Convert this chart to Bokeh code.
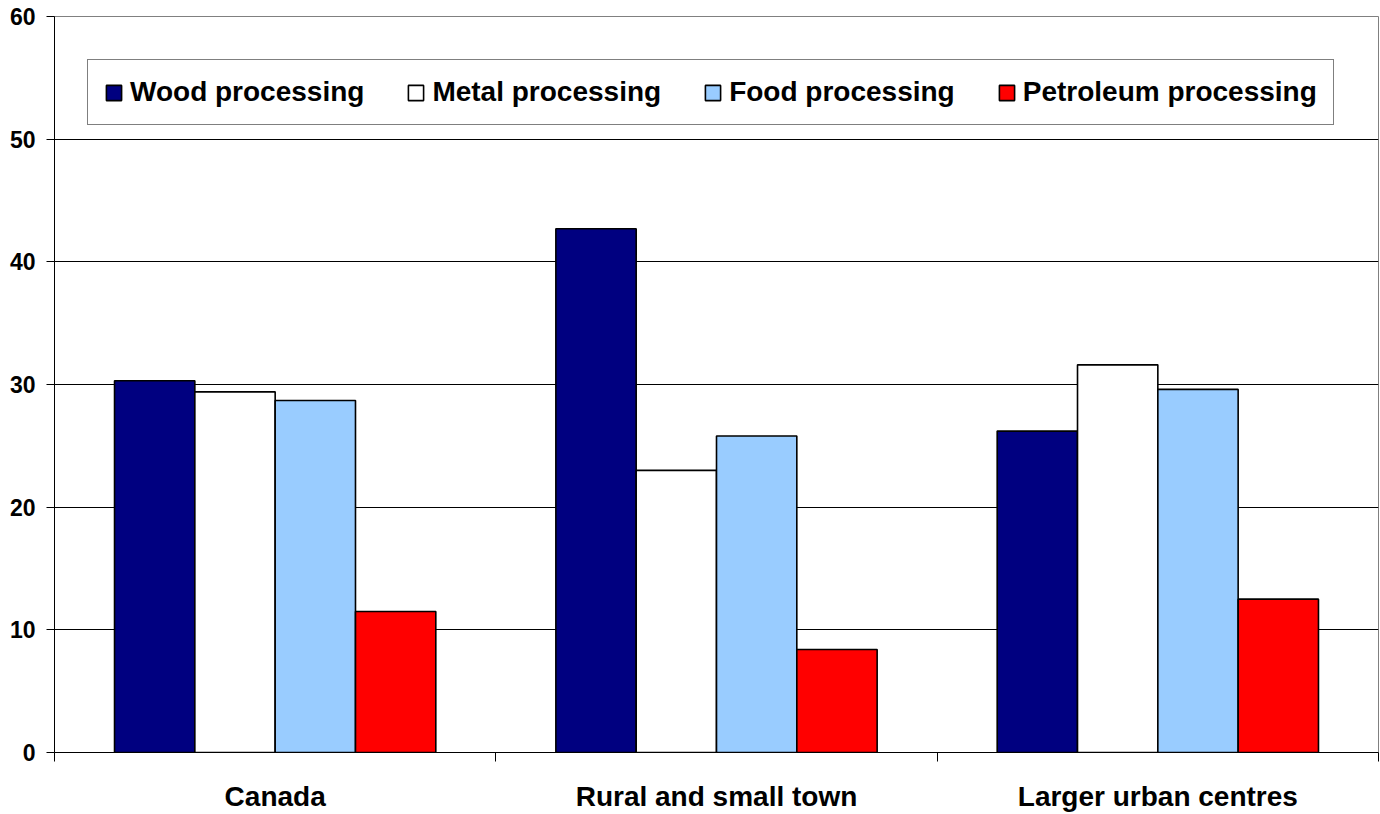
from bokeh.plotting import figure
from bokeh.models import ColumnDataSource, FixedTicker, Legend, LegendItem, Range1d
from bokeh.transform import dodge
from bokeh.embed import file_html
from bokeh.resources import INLINE

categories = ["Canada", "Rural and small town", "Larger urban centres"]
series = ["Wood processing", "Metal processing", "Food processing", "Petroleum processing"]
wood = [30.3, 42.7, 26.2]
metal = [29.4, 23.0, 31.6]
food = [28.7, 25.8, 29.6]
petroleum = [11.5, 8.4, 12.5]
y_ticks = [0, 10, 20, 30, 40, 50, 60]
colors = ["#000080", "#FFFFFF", "#99CCFF", "#FF0000"]

FONT = "Liberation Sans"

n = len(categories)
x_center = [i + 0.5 for i in range(n)]
boundaries = [float(i) for i in range(n + 1)]
source = ColumnDataSource(dict(x=x_center, wood=wood, metal=metal, food=food, petroleum=petroleum))

p = figure(width=1380, height=814, output_backend="svg", toolbar_location=None,
           x_range=Range1d(0, n), y_range=Range1d(0, 60),
           min_border_left=54, min_border_right=2, min_border_top=16, min_border_bottom=60,
           background_fill_color="white", border_fill_color="white")

bar_w = 0.182
keys = ["wood", "metal", "food", "petroleum"]
offsets = [-1.5, -0.5, 0.5, 1.5]
items = []
for key, name, col, off in zip(keys, series, colors, offsets):
    r = p.vbar(x=dodge("x", off * bar_w, range=p.x_range), top=key, bottom=0, width=bar_w,
               source=source, fill_color=col, line_color="black", line_width=1.6)
    items.append(LegendItem(label=name, renderers=[r]))

legend = Legend(items=items, orientation="horizontal", location=(33, 627),
                border_line_color="black", border_line_width=1,
                background_fill_color="white", background_fill_alpha=1,
                label_text_font=FONT, label_text_font_style="bold", label_text_font_size="28px",
                label_text_color="black",
                glyph_width=19, glyph_height=19, label_standoff=7, spacing=42,
                padding=16, margin=0)
p.add_layout(legend)

p.outline_line_color = "#808080"
p.outline_line_width = 1
p.xgrid.visible = False
p.ygrid.ticker = FixedTicker(ticks=[t for t in y_ticks if 0 < t < 60])
p.ygrid.grid_line_color = "black"
p.ygrid.grid_line_width = 1

p.yaxis.ticker = FixedTicker(ticks=y_ticks)
p.yaxis.axis_line_color = "black"
p.yaxis.major_tick_line_color = "black"
p.yaxis.major_tick_out = 8
p.yaxis.major_tick_in = 0
p.yaxis.minor_tick_line_color = None
p.yaxis.major_label_text_font = FONT
p.yaxis.major_label_text_font_style = "bold"
p.yaxis.major_label_text_font_size = "23px"
p.yaxis.major_label_text_color = "black"
p.yaxis.major_label_standoff = 11

p.xaxis.ticker = FixedTicker(ticks=x_center, minor_ticks=boundaries)
p.xaxis.major_label_overrides = {x: c for x, c in zip(x_center, categories)}
p.xaxis.axis_line_color = "black"
p.xaxis.major_tick_line_color = None
p.xaxis.major_tick_out = 0
p.xaxis.major_tick_in = 0
p.xaxis.minor_tick_line_color = "black"
p.xaxis.minor_tick_out = 9
p.xaxis.minor_tick_in = 0
p.xaxis.major_label_text_font = FONT
p.xaxis.major_label_text_font_style = "bold"
p.xaxis.major_label_text_font_size = "28px"
p.xaxis.major_label_text_color = "black"
p.xaxis.major_label_standoff = 19

open("out.html", "w").write(file_html(p, INLINE))
